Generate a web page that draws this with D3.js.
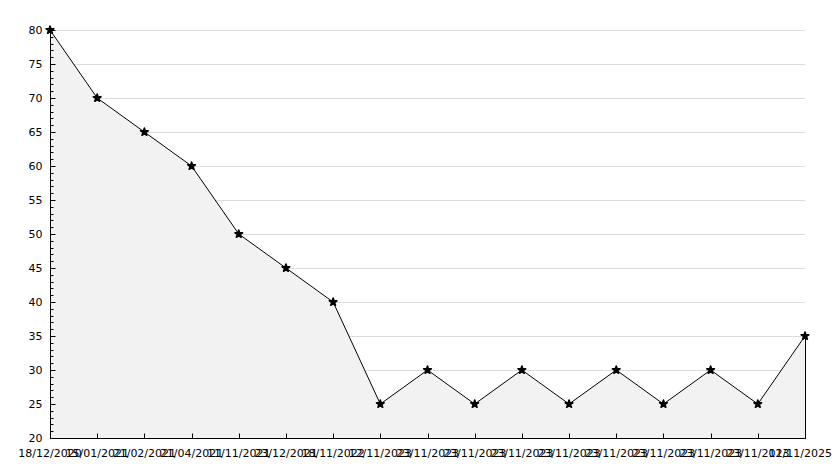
<!DOCTYPE html>
<html><head><meta charset="utf-8">
<script src="https://cdn.jsdelivr.net/npm/d3@7"></script>
<style>body{margin:0;background:#fff}svg{display:block}text{font-family:"DejaVu Sans",sans-serif;font-size:11px;fill:#000}</style>
</head><body>
<script>
const labels = ["18/12/2020","15/01/2021","21/02/2021","21/04/2021","11/11/2021","23/12/2021","18/11/2022","12/11/2023","23/11/2023","23/11/2023","23/11/2023","23/11/2023","23/11/2023","23/11/2023","23/11/2023","23/11/2023","11/11/2025"];
const values = [80,70,65,60,50,45,40,25,30,25,30,25,30,25,30,25,35];
const yTicks = [20,25,30,35,40,45,50,55,60,65,70,75,80];

const W=834,H=468, L=50, R=805, T=30, B=438;
const svg=d3.select("body").append("svg").attr("width",W).attr("height",H);
const x=d3.scalePoint().domain(d3.range(labels.length)).range([L,R]);
const y=d3.scaleLinear().domain([20,80]).range([B,T]);

// grid
svg.append("g").selectAll("line").data(yTicks.filter(d=>d>20)).join("line")
  .attr("x1",L).attr("x2",R).attr("y1",d=>y(d)+0.5).attr("y2",d=>y(d)+0.5)
  .attr("stroke","#dcdcdc").attr("stroke-width",1);

// area
const area=d3.area().x((d,i)=>x(i)).y0(B).y1(d=>y(d));
svg.append("path").datum(values).attr("d",area).attr("fill","#f2f2f2").attr("stroke","none");
svg.append("line").attr("x1",R+0.5).attr("x2",R+0.5).attr("y1",y(values[values.length-1])).attr("y2",B).attr("stroke","#000");
const line=d3.line().x((d,i)=>x(i)).y(d=>y(d));
svg.append("path").datum(values).attr("d",line).attr("fill","none").attr("stroke","#000").attr("stroke-width",1);

// y axis
const ya=svg.append("g").attr("transform",`translate(${L+0.5},0)`);
ya.append("line").attr("y1",T-2).attr("y2",B).attr("stroke","#000");
ya.selectAll(".mn").data(d3.range(20,81)).join("line")
  .attr("x1",0).attr("x2",d=>d%5===0?5:3).attr("y1",d=>Math.round(y(d))+0.5).attr("y2",d=>Math.round(y(d))+0.5).attr("stroke","#000");
ya.selectAll("text").data(yTicks).join("text")
  .attr("x",-8).attr("y",d=>y(d)+4).attr("text-anchor","end").text(d=>d);

// x axis
const xa=svg.append("g").attr("transform",`translate(0,${B+0.5})`);
xa.append("line").attr("x1",L).attr("x2",R+1).attr("stroke","#000");
xa.selectAll(".tk").data(d3.range(labels.length)).join("line")
  .attr("x1",i=>Math.round(x(i))+0.5).attr("x2",i=>Math.round(x(i))+0.5).attr("y1",0).attr("y2",-5).attr("stroke","#000");
const n=labels.length;
xa.selectAll("text").data(labels).join("text")
  .attr("x",(d,i)=>i===n-1?W-2:x(i)).attr("y",18)
  .attr("text-anchor",(d,i)=>i===n-1?"end":"middle").text(d=>d);

// markers
svg.append("g").selectAll("path").data(values).join("path")
  .attr("transform",(d,i)=>`translate(${x(i)},${y(d)})`)
  .attr("d",d3.symbol().type(d3.symbolStar).size(18)).attr("fill","#000").attr("stroke","#000").attr("stroke-width",1.6).attr("stroke-linejoin","round");
</script>
</body></html>
